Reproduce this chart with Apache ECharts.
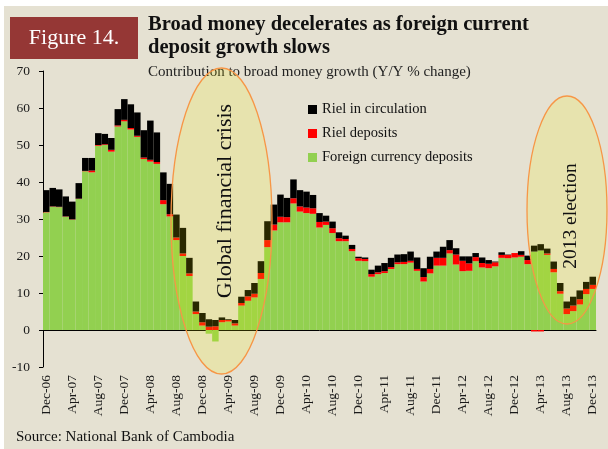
<!DOCTYPE html>
<html>
<head>
<meta charset="utf-8">
<title>Figure 14</title>
<script src="https://cdn.jsdelivr.net/npm/echarts/dist/echarts.min.js"></script>
<style>
    html, body { margin: 0; padding: 0; background: #ffffff; }
    #chart { width: 608px; height: 449px; }
</style>
</head>
<body>
<div id="chart"></div>
<script>
// months, Dec-06 .. Dec-13
var months = [
    "Dec-06", "Jan-07", "Feb-07", "Mar-07", "Apr-07", "May-07", "Jun-07", "Jul-07", "Aug-07", "Sep-07", "Oct-07", "Nov-07",
    "Dec-07", "Jan-08", "Feb-08", "Mar-08", "Apr-08", "May-08", "Jun-08", "Jul-08", "Aug-08", "Sep-08", "Oct-08", "Nov-08",
    "Dec-08", "Jan-09", "Feb-09", "Mar-09", "Apr-09", "May-09", "Jun-09", "Jul-09", "Aug-09", "Sep-09", "Oct-09", "Nov-09",
    "Dec-09", "Jan-10", "Feb-10", "Mar-10", "Apr-10", "May-10", "Jun-10", "Jul-10", "Aug-10", "Sep-10", "Oct-10", "Nov-10",
    "Dec-10", "Jan-11", "Feb-11", "Mar-11", "Apr-11", "May-11", "Jun-11", "Jul-11", "Aug-11", "Sep-11", "Oct-11", "Nov-11",
    "Dec-11", "Jan-12", "Feb-12", "Mar-12", "Apr-12", "May-12", "Jun-12", "Jul-12", "Aug-12", "Sep-12", "Oct-12", "Nov-12",
    "Dec-12", "Jan-13", "Feb-13", "Mar-13", "Apr-13", "May-13", "Jun-13", "Jul-13", "Aug-13", "Sep-13", "Oct-13", "Nov-13",
    "Dec-13"
];

// foreign currency deposits (green)
var foreignDeposits = [
    31.8, 33.3, 33.2, 30.6, 29.8, 35.4, 42.9, 42.6, 49.8, 50.0, 48.2, 55.0,
    56.4, 54.2, 52.2, 46.2, 45.5, 44.9, 34.0, 30.7, 24.3, 20.0, 14.6, 4.3,
    1.2, -1.0, -3.1, 2.1, 2.3, 1.2, 6.6, 7.9, 8.8, 13.8, 22.4, 26.9,
    29.1, 29.1, 34.2, 32.0, 31.6, 31.4, 27.7, 28.4, 26.2, 24.0, 24.0, 21.3,
    18.7, 18.6, 14.4, 15.1, 15.4, 16.5, 17.8, 17.8, 18.2, 16.0, 13.1, 15.3,
    17.4, 17.4, 20.7, 17.7, 15.9, 16.0, 18.6, 16.9, 16.7, 17.2, 19.5, 19.4,
    19.6, 19.8, 17.8, 21.2, 21.5, 20.3, 15.6, 9.8, 4.3, 5.1, 6.9, 9.7,
    11.1
];

// riel deposits (red)
var rielDeposits = [
    0.1, 0.1, 0.1, 0.1, 0.1, 0.1, 0.1, 0.5, 0.2, 0.2, 0.5, 0.3,
    0.4, 0.4, 0.3, 0.4, 0.5, 0.5, 1.1, 0.6, 0.7, 0.7, 0.7, 0.7,
    0.9, 0.9, 1.0, 0.6, 0.4, 0.6, 0.7, 1.2, 1.0, 1.6, 1.9, 1.6,
    1.5, 1.4, 1.4, 1.4, 1.5, 1.5, 1.5, 0.9, 1.3, 0.8, 0.6, 0.6,
    0.7, 0.6, 0.7, 0.5, 0.5, 0.5, 0.5, 0.6, 0.5, 0.5, 1.2, 1.2,
    2.1, 2.1, 0.9, 2.7, 2.8, 2.0, 1.1, 1.2, 1.2, 1.1, 0.8, 0.9,
    1.2, 0.5, 1.1, -0.4, -0.4, 0.4, 0.9, 0.7, 1.5, 1.5, 1.4, 1.4,
    1.1
];

// riel in circulation (black)
var rielCirculation = [
    5.9, 5.0, 4.7, 5.4, 4.8, 4.2, 3.5, 3.4, 3.2, 2.8, 3.2, 4.4,
    5.6, 6.4, 6.3, 7.4, 10.6, 8.0, 7.5, 8.2, 6.2, 6.9, 4.2, 2.7,
    2.5, 2.0, 1.7, 0.7, 0.2, 0.9, 1.7, 1.7, 2.9, 3.2, 5.1, 5.4,
    6.0, 5.2, 5.1, 4.4, 4.3, 3.6, 2.4, 1.6, 1.8, 1.6, 0.9, 1.1,
    0.4, 0.4, 1.2, 1.8, 2.2, 2.5, 2.1, 2.1, 2.5, 3.1, 2.4, 3.3,
    1.7, 3.0, 2.7, 1.7, 1.2, 1.9, 1.1, 1.5, 1.0, 0.2, 0.7, 0.1,
    0.0, 1.0, 1.2, 1.6, 1.7, 1.3, 2.0, 2.2, 1.9, 2.4, 2.4, 1.9,
    2.2
];

var yTicks = { min: -10, max: 70, step: 10 };

var serifFont = '"Liberation Serif", "DejaVu Serif", serif';

var myChart = echarts.init(document.getElementById('chart'));

var option = {
    backgroundColor: '#ffffff',
    animation: false,
    textStyle: { fontFamily: serifFont },
    grid: { left: 43, right: 12, top: 71, bottom: 82 },
    legend: {
        orient: 'vertical',
        left: 303,
        top: 97,
        itemWidth: 9,
        itemHeight: 9,
        itemGap: 9,
        icon: 'rect',
        textStyle: { fontFamily: serifFont, fontSize: 14.5, color: '#111' },
        data: ['Riel in circulation', 'Riel deposits', 'Foreign currency deposits']
    },
    xAxis: [{
        // labels at the bottom of the plot
        type: 'category',
        data: months,
        position: 'bottom',
        axisLine: { show: false, onZero: false },
        axisTick: { show: false },
        axisLabel: {
            interval: 3,
            rotate: 90,
            margin: 8,
            fontFamily: serifFont,
            fontSize: 13.5,
            color: '#1a1a1a'
        }
    }, {
        // zero line with tick marks
        type: 'category',
        data: months,
        position: 'bottom',
        axisLine: { onZero: true, lineStyle: { color: '#000', width: 1 } },
        axisTick: { interval: 3, length: 4, lineStyle: { color: '#000' } },
        axisLabel: { show: false }
    }],
    yAxis: {
        type: 'value',
        min: yTicks.min,
        max: yTicks.max,
        interval: yTicks.step,
        splitLine: { show: false },
        axisLine: { show: true, lineStyle: { color: '#000' } },
        axisTick: { show: true, length: 4, lineStyle: { color: '#000' } },
        axisLabel: { margin: 13, fontFamily: serifFont, fontSize: 13.5, color: '#1a1a1a' }
    },
    series: [{
        name: 'Foreign currency deposits',
        type: 'bar',
        stack: 'money',
        barCategoryGap: 0,
        itemStyle: { color: '#92d050' },
        data: foreignDeposits
    }, {
        name: 'Riel deposits',
        type: 'bar',
        stack: 'money',
        barCategoryGap: 0,
        itemStyle: { color: '#ff0000' },
        data: rielDeposits
    }, {
        name: 'Riel in circulation',
        type: 'bar',
        stack: 'money',
        barCategoryGap: 0,
        itemStyle: { color: '#000000' },
        data: rielCirculation
    }],
    graphic: [
        // beige panel behind everything
        { type: 'rect', z: -10, shape: { x: 4, y: 6, width: 604, height: 443 }, style: { fill: '#e5e1d2' } },
        // figure label box
        { type: 'rect', z: 10, shape: { x: 10, y: 17, width: 128, height: 42 }, style: { fill: '#953735' } },
        { type: 'text', z: 11, x: 74, y: 38, style: { text: 'Figure 14.', fill: '#fff', font: '22px ' + serifFont, align: 'center', verticalAlign: 'middle' } },
        // title + subtitle
        { type: 'text', z: 11, x: 148, y: 25, style: { text: 'Broad money decelerates as foreign current', fill: '#111', font: 'bold 20.5px ' + serifFont, verticalAlign: 'middle' } },
        { type: 'text', z: 11, x: 148, y: 48, style: { text: 'deposit growth slows', fill: '#111', font: 'bold 20.5px ' + serifFont, verticalAlign: 'middle' } },
        { type: 'text', z: 11, x: 148, y: 72, style: { text: 'Contribution to broad money growth (Y/Y % change)', fill: '#222', font: '15px ' + serifFont, verticalAlign: 'middle' } },
        // highlight ellipses
        { type: 'ellipse', z: 100, shape: { cx: 221.5, cy: 221, rx: 50.5, ry: 153 }, style: { fill: 'rgba(245,240,0,0.17)', stroke: '#f79646', lineWidth: 1.3 } },
        { type: 'text', z: 101, x: 225, y: 201, rotation: Math.PI / 2, style: { text: 'Global financial crisis', fill: '#111', font: '22px ' + serifFont, align: 'center', verticalAlign: 'middle' } },
        { type: 'ellipse', z: 100, shape: { cx: 567, cy: 210, rx: 40, ry: 114 }, style: { fill: 'rgba(245,240,0,0.17)', stroke: '#f79646', lineWidth: 1.3 } },
        { type: 'text', z: 101, x: 571, y: 216, rotation: Math.PI / 2, style: { text: '2013 election', fill: '#111', font: '19.5px ' + serifFont, align: 'center', verticalAlign: 'middle' } },
        // source
        { type: 'text', z: 11, x: 16, y: 437, style: { text: 'Source: National Bank of Cambodia', fill: '#111', font: '15px ' + serifFont, verticalAlign: 'middle' } }
    ]
};

myChart.setOption(option);
</script>
</body>
</html>
